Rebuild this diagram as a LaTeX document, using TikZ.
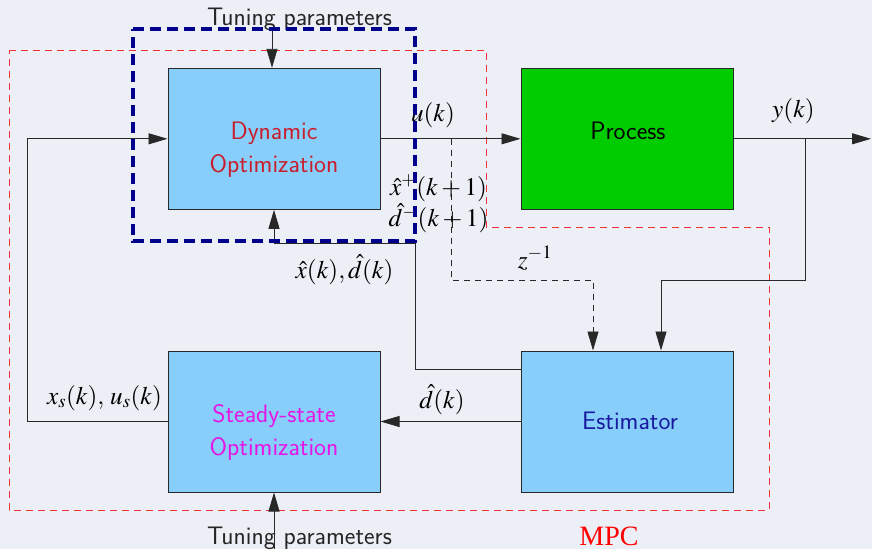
\documentclass[tikz,border=0pt]{standalone}
\usepackage{mathptmx}
\usepackage{fontspec}
\usetikzlibrary{arrows.meta,calc}
\newfontfamily\mpcfont{Liberation Serif}
\definecolor{pagebg}{RGB}{237,239,246}
\definecolor{boxblue}{RGB}{135,206,250}
\definecolor{procgreen}{RGB}{0,204,0}
\definecolor{dyntext}{RGB}{200,30,45}
\definecolor{sstext}{RGB}{230,20,230}
\definecolor{esttext}{RGB}{25,25,160}
\definecolor{mpcred}{RGB}{240,50,50}
\definecolor{tunenavy}{RGB}{0,0,140}
\definecolor{linegray}{RGB}{40,40,40}
\tikzset{
  blockbox/.style={draw=linegray, line width=1pt, minimum width=212pt, minimum height=141pt,
    inner sep=0pt},
  blocktext/.style={anchor=north, inner sep=0pt, align=center,
    font=\sffamily\fontsize{25.3}{33}\selectfont},
  arr/.style={draw=linegray, line width=0.9pt, -{Triangle[length=19pt,width=11pt]}},
  sig/.style={anchor=base, inner sep=0pt, font=\fontsize{25.3}{30}\selectfont},
  tunetext/.style={anchor=base, font=\sffamily\fontsize{25.3}{30}\selectfont, text=black!85, inner sep=0pt},
}
\begin{document}
\begin{tikzpicture}[x=1pt, y=-1pt]
  % page
  \fill[pagebg] (0,0) rectangle (872,549);
  \useasboundingbox (0,0) rectangle (872,549);

  % MPC boundary
  \draw[mpcred, line width=0.9pt, dash pattern=on 7pt off 5pt]
    (9,50) -- (486,50) -- (486,227) -- (769,227) -- (769,510) -- (9,510) -- cycle;

  % blocks
  \node[blockbox, fill=boxblue] (dyn) at (274,138.8) {};
  \node[blockbox, fill=procgreen] (proc) at (627,138.8) {};
  \node[blockbox, fill=boxblue] (ss) at (274,421.5) {};
  \node[blockbox, fill=boxblue] (est) at (627,421.5) {};

  % block captions
  \node[blocktext, text=dyntext] (dyntxt) at (274,121.7) {Dynamic\\Optimization};
  \node[blocktext, text=black] (proctxt) at (628,121.7) {Process};
  \node[blocktext, text=sstext] (sstxt) at (274,404.4) {Steady-state\\Optimization};
  \node[blocktext, text=esttext] (esttxt) at (630,411.7) {Estimator};

  % taps and free ends
  \coordinate (utap) at (451,138.8);
  \coordinate (ytap) at (805,138.8);
  \coordinate (yout) at (871,138.8);
  \coordinate (tbot) at (274,549);

  % control input to the process
  \draw[arr] (dyn.east) -- (proc.west);
  \node[sig] (ulab) at (433,121) {$u(k)$};

  % measured output
  \draw[arr] (proc.east) -- (yout);
  \node[sig] (ylab) at (793.5,117) {$y(k)$};
  \draw[arr] (ytap) -- (805,280) -| ($(est.north)+(34,0)$);

  % delayed input to the estimator
  \draw[arr, dash pattern=on 6pt off 5pt] (utap) -- (451,280) -| ($(est.north)+(-34,0)$);
  \node[sig] (zlab) at (535,268) {$z^{-1}$};

  % predictions
  \node[sig] (xplus) at (438.5,195) {$\hat{x}^{+}(k+1)$};
  \node[sig] (dplus) at (438.5,226.7) {$\hat{d}^{-}(k+1)$};

  % estimates back to dynamic optimization
  \draw[arr] ($(est.west)+(0,-52.5)$) -- (415,369) -- (415,243) -| (dyn.south);
  \node[sig] (xdlab) at (344.5,278) {$\hat{x}(k),\hat{d}(k)$};

  % disturbance estimate to steady-state optimization
  \draw[arr] (est.west) -- (ss.east);
  \node[sig] (dlab) at (442,408) {$\hat{d}(k)$};

  % targets to dynamic optimization
  \draw[arr] (ss.west) -- (27,421.5) |- (dyn.west);
  \node[sig] (xslab) at (104.5,404) {$x_s(k),\, u_s(k)$};

  % tuning inputs
  \node[tunetext] (ttop) at (299.5,25) {Tuning parameters};
  \draw[arr] (272,30) -- (dyn.north -| 272,0);
  \node[tunetext] (tbtm) at (299.5,544) {Tuning parameters};
  \draw[arr] (tbot) -- (ss.south);

  % MPC label
  \node[anchor=base, text=red, font=\mpcfont\fontsize{28}{30}\selectfont, inner sep=0pt] (mpc) at (609,545) {MPC};

  % tuning boundary
  \draw[tunenavy, line width=3.2pt, dash pattern=on 11pt off 6pt]
    (133,29) -- (415,29) -- (415,241) -- (133,241) -- cycle;
\end{tikzpicture}
\end{document}
